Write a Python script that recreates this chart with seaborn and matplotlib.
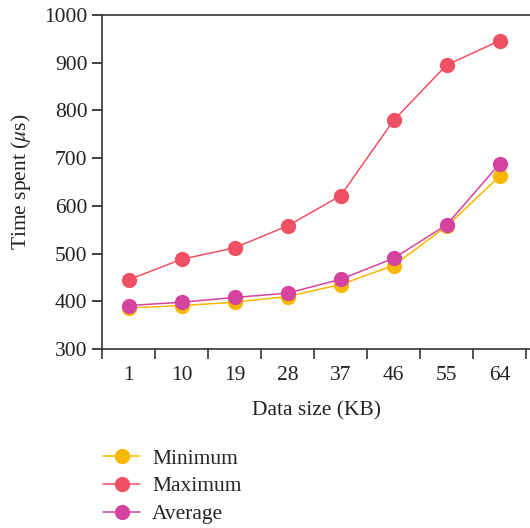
import matplotlib
matplotlib.use("Agg")
import matplotlib.pyplot as plt
import seaborn as sns
import pandas as pd
import numpy as np

sizes = ["1", "10", "19", "28", "37", "46", "55", "64"]
minimum = [386, 391, 398, 410, 435, 475, 557, 662]
maximum = [445, 488, 512, 558, 621, 779, 895, 946]
average = [391, 398, 408, 417, 446, 490, 560, 688]

series = {"Minimum": minimum, "Maximum": maximum, "Average": average}
colors = {"Minimum": "#F8B800", "Maximum": "#EF5064", "Average": "#D4449E"}

rows = []
for name, vals in series.items():
    for i, v in enumerate(vals):
        rows.append({"pos": i, "size": sizes[i], "time": v, "series": name})
df = pd.DataFrame(rows)

sns.set_theme(style="ticks")
plt.rcParams["font.family"] = ["Liberation Serif", "DejaVu Serif"]
plt.rcParams["mathtext.fontset"] = "stix"

FS = 15.5
fig = plt.figure(figsize=(5.30, 5.28), dpi=100)
ax = fig.add_axes([102 / 530, 1 - 349 / 528, 428 / 530, (349 - 15) / 528])

sns.lineplot(data=df, x="pos", y="time", hue="series", palette=colors,
             hue_order=["Minimum", "Maximum", "Average"],
             marker="o", markersize=11, markeredgewidth=0, linewidth=1.1,
             ax=ax, legend=False)

ax.set_ylim(300, 1000)
ax.set_yticks(np.arange(300, 1001, 100))
ax.set_xlim(-0.5, 7.575)
ax.set_xticks(range(len(sizes)))
ax.set_xticklabels(sizes)
ax.set_xticks(np.arange(-0.5, 8.0, 1.0), minor=True)
ax.tick_params(axis="x", which="major", length=0, pad=12, labelsize=FS, colors="#222222")
ax.tick_params(axis="x", which="minor", length=7, width=1.2, direction="out", color="#333333")
ax.tick_params(axis="y", length=7, width=1.2, labelsize=FS, colors="#222222")

ax.spines["right"].set_visible(False)
for s in ("left", "bottom", "top"):
    ax.spines[s].set_linewidth(1.2)
    ax.spines[s].set_color("#333333")

ax.set_xlabel("Data size (KB)", fontsize=FS, color="#222222", labelpad=12)
ax.set_ylabel(r"Time spent ($\mu$s)", fontsize=FS, color="#222222", labelpad=8)

handles = [plt.Line2D([], [], color=colors[n], marker="o", markersize=11,
                      markeredgewidth=0, linewidth=1.1) for n in series]
fig.legend(handles, list(series.keys()), loc="upper left",
           bbox_to_anchor=(92 / 530, 1 - 438 / 528), frameon=False,
           fontsize=FS, handlelength=1.75, handletextpad=0.55,
           labelspacing=0.35, borderpad=0)

fig.savefig("out.png", dpi=100)
